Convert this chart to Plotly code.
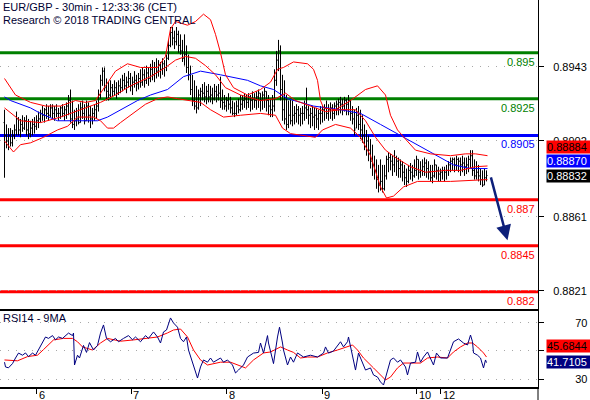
import plotly.graph_objects as go

# ---------------- DATA ----------------
bar_high = [
 0.8919,0.8911,0.8909,0.8909,0.8908,0.8911,0.8918,0.8915,0.8914,0.8916,
 0.8915,0.8916,0.8914,0.8913,0.8914,0.8915,0.8916,0.8918,0.8919,0.8921,
 0.8920,0.8922,0.8921,0.8922,0.8922,0.8921,0.8922,0.8920,0.8921,0.8922,
 0.8921,0.8923,0.8927,0.8930,0.8924,0.8919,0.8920,0.8922,0.8923,0.8924,
 0.8922,0.8924,0.8923,0.8921,0.8920,0.8922,0.8924,0.8930,0.8938,0.8942,
 0.8942,0.8936,0.8934,0.8935,0.8933,0.8935,0.8934,0.8935,0.8936,0.8938,
 0.8939,0.8937,0.8940,0.8939,0.8937,0.8940,0.8938,0.8939,0.8941,0.8942,
 0.8941,0.8943,0.8942,0.8944,0.8946,0.8945,0.8947,0.8946,0.8945,0.8947,
 0.8946,0.8949,0.8957,0.8964,0.8964,0.8962,0.8964,0.8962,0.8960,0.8957,
 0.8960,0.8954,0.8949,0.8943,0.8938,0.8935,0.8932,0.8930,0.8931,0.8933,
 0.8934,0.8932,0.8933,0.8932,0.8931,0.8933,0.8932,0.8933,0.8937,0.8930,
 0.8927,0.8926,0.8928,0.8926,0.8924,0.8923,0.8924,0.8925,0.8927,0.8927,
 0.8928,0.8927,0.8928,0.8927,0.8929,0.8928,0.8929,0.8930,0.8928,0.8929,
 0.8931,0.8929,0.8927,0.8925,0.8927,0.8941,0.8951,0.8957,0.8954,0.8938,
 0.8935,0.8927,0.8924,0.8925,0.8924,0.8921,0.8922,0.8921,0.8920,0.8921,
 0.8924,0.8931,0.8921,0.8920,0.8921,0.8920,0.8920,0.8919,0.8921,0.8921,
 0.8922,0.8924,0.8922,0.8923,0.8922,0.8923,0.8924,0.8925,0.8926,0.8925,
 0.8926,0.8925,0.8927,0.8924,0.8921,0.8919,0.8920,0.8921,0.8919,0.8916,
 0.8911,0.8908,0.8905,0.8903,0.8900,0.8894,0.8892,0.8889,0.8892,0.8889,
 0.8889,0.8894,0.8896,0.8895,0.8894,0.8897,0.8894,0.8893,0.8892,0.8891,
 0.8889,0.8887,0.8889,0.8890,0.8889,0.8892,0.8894,0.8892,0.8891,0.8892,
 0.8893,0.8892,0.8891,0.8889,0.8889,0.8892,0.8889,0.8888,0.8887,0.8888,
 0.8888,0.8889,0.8891,0.8893,0.8893,0.8893,0.8894,0.8893,0.8893,0.8894,
 0.8893,0.8893,0.8894,0.8897,0.8897,0.8892,0.8891,0.8889,0.8887,0.8886,
 0.8887,0.8886]
bar_low = [
 0.8882,0.8898,0.8897,0.8899,0.8899,0.8903,0.8905,0.8905,0.8904,0.8907,
 0.8908,0.8905,0.8903,0.8904,0.8905,0.8906,0.8908,0.8909,0.8912,0.8913,
 0.8912,0.8914,0.8913,0.8915,0.8914,0.8913,0.8915,0.8913,0.8914,0.8915,
 0.8913,0.8914,0.8916,0.8912,0.8909,0.8908,0.8910,0.8911,0.8912,0.8914,
 0.8911,0.8913,0.8912,0.8909,0.8911,0.8913,0.8914,0.8918,0.8925,0.8932,
 0.8929,0.8924,0.8924,0.8925,0.8926,0.8927,0.8925,0.8927,0.8928,0.8929,
 0.8930,0.8928,0.8931,0.8929,0.8927,0.8931,0.8929,0.8930,0.8931,0.8932,
 0.8931,0.8933,0.8932,0.8934,0.8935,0.8934,0.8936,0.8937,0.8936,0.8938,
 0.8937,0.8940,0.8946,0.8953,0.8954,0.8952,0.8954,0.8950,0.8949,0.8945,
 0.8943,0.8939,0.8935,0.8927,0.8921,0.8919,0.8917,0.8919,0.8921,0.8924,
 0.8923,0.8922,0.8923,0.8923,0.8922,0.8924,0.8923,0.8924,0.8920,0.8919,
 0.8919,0.8918,0.8919,0.8917,0.8916,0.8915,0.8916,0.8917,0.8918,0.8919,
 0.8920,0.8919,0.8920,0.8918,0.8919,0.8920,0.8919,0.8920,0.8918,0.8919,
 0.8920,0.8918,0.8916,0.8915,0.8915,0.8918,0.8932,0.8940,0.8924,0.8913,
 0.8911,0.8908,0.8909,0.8911,0.8910,0.8911,0.8912,0.8911,0.8910,0.8911,
 0.8913,0.8914,0.8911,0.8909,0.8910,0.8908,0.8909,0.8908,0.8911,0.8912,
 0.8913,0.8914,0.8913,0.8914,0.8913,0.8914,0.8916,0.8916,0.8917,0.8916,
 0.8918,0.8916,0.8916,0.8913,0.8911,0.8905,0.8909,0.8908,0.8903,0.8901,
 0.8897,0.8894,0.8891,0.8887,0.8883,0.8881,0.8876,0.8874,0.8875,0.8874,
 0.8875,0.8881,0.8885,0.8886,0.8883,0.8885,0.8883,0.8882,0.8882,0.8880,
 0.8878,0.8877,0.8879,0.8881,0.8880,0.8882,0.8883,0.8881,0.8882,0.8883,
 0.8883,0.8882,0.8881,0.8880,0.8879,0.8882,0.8881,0.8880,0.8880,0.8881,
 0.8880,0.8881,0.8883,0.8885,0.8886,0.8885,0.8886,0.8885,0.8883,0.8885,
 0.8883,0.8884,0.8885,0.8887,0.8883,0.8881,0.8881,0.8880,0.8878,0.8877,
 0.8878,0.8880]
bar_close = [
 0.8905,0.8902,0.8905,0.8901,0.8905,0.8908,0.8914,0.8908,0.8911,0.8909,
 0.8913,0.8908,0.8906,0.8909,0.8911,0.8910,0.8913,0.8914,0.8917,0.8916,
 0.8919,0.8917,0.8916,0.8920,0.8917,0.8919,0.8917,0.8917,0.8920,0.8917,
 0.8919,0.8921,0.8924,0.8914,0.8911,0.8913,0.8914,0.8912,0.8920,0.8917,
 0.8913,0.8921,0.8916,0.8914,0.8917,0.8919,0.8921,0.8927,0.8935,0.8940,
 0.8931,0.8929,0.8927,0.8931,0.8929,0.8931,0.8928,0.8932,0.8931,0.8935,
 0.8932,0.8934,0.8936,0.8932,0.8934,0.8935,0.8933,0.8936,0.8934,0.8938,
 0.8935,0.8939,0.8936,0.8941,0.8938,0.8942,0.8940,0.8943,0.8941,0.8944,
 0.8942,0.8947,0.8954,0.8961,0.8958,0.8956,0.8960,0.8954,0.8951,0.8947,
 0.8949,0.8942,0.8938,0.8930,0.8924,0.8921,0.8920,0.8927,0.8929,0.8928,
 0.8926,0.8929,0.8926,0.8927,0.8925,0.8929,0.8927,0.8928,0.8924,0.8923,
 0.8921,0.8924,0.8922,0.8920,0.8917,0.8917,0.8921,0.8919,0.8922,0.8924,
 0.8925,0.8923,0.8926,0.8924,0.8925,0.8924,0.8926,0.8928,0.8924,0.8927,
 0.8929,0.8924,0.8921,0.8919,0.8921,0.8935,0.8946,0.8951,0.8930,0.8919,
 0.8914,0.8911,0.8916,0.8913,0.8916,0.8917,0.8919,0.8916,0.8917,0.8917,
 0.8920,0.8919,0.8916,0.8917,0.8915,0.8916,0.8914,0.8917,0.8917,0.8919,
 0.8920,0.8917,0.8919,0.8920,0.8917,0.8921,0.8922,0.8923,0.8922,0.8921,
 0.8924,0.8922,0.8924,0.8917,0.8914,0.8908,0.8916,0.8911,0.8908,0.8905,
 0.8899,0.8902,0.8897,0.8891,0.8889,0.8886,0.8881,0.8878,0.8880,0.8876,
 0.8883,0.8892,0.8893,0.8891,0.8889,0.8893,0.8891,0.8887,0.8889,0.8885,
 0.8882,0.8880,0.8886,0.8885,0.8883,0.8886,0.8892,0.8885,0.8886,0.8888,
 0.8890,0.8887,0.8885,0.8882,0.8883,0.8889,0.8886,0.8884,0.8885,0.8886,
 0.8885,0.8886,0.8889,0.8891,0.8892,0.8889,0.8892,0.8891,0.8889,0.8890,
 0.8888,0.8889,0.8892,0.8894,0.8886,0.8883,0.8885,0.8883,0.8881,0.8878,
 0.8882,0.88832]
first_open = 0.8912

bb_upper_x = [0,5.5,13,20.5,28,35.5,40.5,45.5,50.5,55.5,61.5,68,76.5,80.5,83,85.5,91.5,95.5,99.5,103,
              105.5,108,110.5,114.5,121.5,128,133,136.5,139.5,144.5,151.5,154.5,156.5,158,159.5,165.5,173,180.5,186.5,190.5,
              193,196.5,200.5,205.5,213,223,230.5,235.5,241.5]
bb_upper = [0.8936,0.8927,0.8923,0.8921,0.8921,0.8924,0.8923,0.8924,0.8932,0.8940,0.8944,0.8942,0.8942,0.8948,0.8963,0.8967,0.8965,0.8967,0.8971,0.8968,
            0.8960,0.8950,0.8938,0.8931,0.8927,0.8930,0.8934,0.8941,0.8942,0.8945,0.8944,0.8941,0.8935,0.8924,0.8920,0.8919,0.8924,0.8930,0.8932,0.8927,
            0.8916,0.8908,0.8903,0.8897,0.8895,0.8894,0.8895,0.8895,0.8894]
bb_mid_x = [0,8,18,28,38,48,55.5,63,73,80.5,85.5,90.5,95.5,100.5,105.5,110.5,118,128,135.5,140.5,
            145.5,153,160.5,168,175.5,180.5,185.5,190.5,195.5,203,210.5,220.5,228,235.5,241.5]
bb_mid = [0.8920,0.8913,0.8912,0.8915,0.8919,0.8923,0.8927,0.8932,0.8937,0.8942,0.8946,0.8948,0.8947,0.8943,0.8938,0.8931,0.8927,0.8924,0.8925,0.8928,
          0.8924,0.8921,0.8918,0.8919,0.8919,0.8913,0.8904,0.8897,0.8893,0.8888,0.8885,0.8886,0.8886,0.8888,0.88884]
bb_lower_x = [0,4.5,8,13,19.5,26.5,31.5,36.5,44.5,48,51.5,54.5,58,63,70.5,76.5,81.5,86.5,93,98,
              103,109.5,118,128,135.5,139,143,150.5,155.5,159,165.5,173,178,183,188,191,194.5,199.5,206.5,223,241.5]
bb_lower = [0.8902,0.8896,0.8900,0.8901,0.8904,0.8908,0.8910,0.8915,0.8915,0.8913,0.8909,0.8909,0.8912,0.8916,0.8922,0.8925,0.8926,0.8925,0.8924,0.8923,
            0.8919,0.8915,0.8916,0.8917,0.8916,0.8909,0.8906,0.8905,0.8904,0.8908,0.8911,0.8909,0.8904,0.8894,0.8877,0.8871,0.8872,0.8877,0.8880,0.8880,0.8881]
ma_x = [0,3,13,18,26.5,31.5,46.5,51.5,58,66.5,73,81.5,89.5,94.5,98,108,121.5,128,134.5,141.5,
        148,154.5,168,178,188,198,208,218,224.5,233,241.5]
ma_blue = [0.8926,0.8924,0.8920,0.8917,0.8913,0.8913,0.8913,0.8915,0.8919,0.8924,0.8927,0.8930,0.8937,0.8939,0.8940,0.8938,0.8935,0.8932,0.8930,0.8925,
           0.8923,0.8921,0.8919,0.8917,0.8911,0.8905,0.8899,0.8893,0.8889,0.8887,0.88870]

rsi_x = [0,0.5,2,4,5.5,7,9,10.5,12,14,15.5,17,19,20.5,22,24,25.5,27,29,30.5,
         32,34,34.5,35,36.5,37.5,39.5,41,42.5,44.5,46.5,48,49.5,51,53,55.5,57,59.5,62,64,
         65.5,68,70.5,72,74.5,76.5,78,79.5,81,83,84.5,86.5,88,89.5,91,92,94,95.5,96.5,98,
         99.5,101.5,103,104.5,106.5,108,109.5,111.5,114,115.5,117,119.5,121.5,123,124.5,127,128,129.5,131.5,132,
         134,134.5,136.5,137.5,139,139.5,141.5,143,144.5,146.5,149.5,153,156.5,159.5,160.5,162,164.5,168,169.5,171.5,
         172,173,174,175.5,177,179,180.5,183,184.5,186.5,188,189.5,191.5,193,194.5,196.5,198,200.5,201.5,203,
         205.5,206.5,208,209.5,211.5,213,214.5,216,218,221.5,223,224.5,227,229.5,231.5,233,234,234.5,236.5,238,
         239.5,240.5,241]
rsi = [42,38.6,38,41,45,48.5,47,48.6,46,48.5,47,50.7,56.6,60,59,61,58,60,59,61,
       62.8,61,62.8,40,47,45,54,49,56,50.7,54,62.8,68.6,59,56.6,59,56.6,59,61,58,
       60,56.6,61,59,63.6,60,55.7,63.6,65,73.6,70,67,59,56.6,60,50.7,42,36.4,30.7,38.6,
       43.6,42,45,42,43.6,45,42,43.6,40,34.3,36.4,40,45.7,47,48.5,49,55.7,48.5,61,55.7,
       45,41,60,67,55.7,50.7,40,45.7,42,48.6,45.7,47,45.7,48.5,52.9,48.5,50,56.6,52.9,56.6,
       60,52.9,47,36.4,48.5,41.4,36.4,37.9,32.9,31.4,27.9,25.7,36.4,43.6,45,42,43.6,38.6,32.9,41.4,
       42,49.3,42,45.7,49.3,45,40,48.5,45,45,50.7,56.6,58.6,55.7,54.3,61.4,56.6,48.6,47,45,
       37.9,43.6,41.7105]
rsi_ma_x = [0,6.5,11.5,16.5,19.5,24.5,29.5,34,36.5,39,44,48,51.5,58,64.5,71.5,76.5,81.5,84.5,88,
            91.5,94.5,98,101.5,108,113,116.5,120.5,124.5,129.5,133,138,141.5,144.5,148,151.5,156.5,161.5,166.5,171.5,
            174,176.5,179.5,184.5,188,190.5,193,196.5,199.5,204.5,208,211.5,216.5,221.5,224.5,228,231.5,234,236.5,239.5,241]
rsi_ma = [43.6,43,46,47,51,57.9,59,59,56.6,52.9,50.7,55.7,59,57,57.9,59,60,62.9,65,65.7,
          60,50.7,43.6,40,42,42,40,37.9,43.6,48.6,49.3,52.9,50.7,49,45,45.7,45.7,48.6,50.7,52.9,
          54.3,50.7,45,37.9,32.9,29.3,31.4,37.9,41.4,41.4,41.4,45,45.7,45,49.3,52.9,55.7,55.7,52.9,48.6,45.6844]

levels = [0.895, 0.8925, 0.8905, 0.887, 0.8845, 0.882]
level_text = ["0.895", "0.8925", "0.8905", "0.887", "0.8845", "0.882"]
level_kind = ["res", "res", "pivot", "sup", "sup", "sup"]

price_tick_vals = [0.89423, 0.89020, 0.88607, 0.88204]
price_tick_text = ["0.8943", "0.8902", "0.8861", "0.8821"]
rsi_tick_vals = [30, 50, 70]
rsi_tick_text = ["30", "", "70"]
day_tick_x = [16, 63.25, 111, 158.75, 206, 218]
day_tick_text = ["6", "7", "8", "9", "10", "12"]

arrow_from = (243, 0.8883)
arrow_to = (251.5, 0.8848)

last_close = 0.88832
last_mid = 0.88884
last_ma = 0.88870
last_rsi = 41.7105
last_rsi_ma = 45.6844

# ---------------- STYLE ----------------
FONT = "Liberation Sans, Arial, sans-serif"
RED = "#ff0000"
GREEN = "#008000"
BLUE = "#0000ff"
NAVY = "#000080"
kind_color = {"res": GREEN, "pivot": BLUE, "sup": RED}
X_RANGE = [-2.25, 266.75]

n = len(bar_close)
bar_x = list(range(n))
bar_open = [first_open] + bar_close[:-1]
bar_open = [min(max(o, l), h) for o, l, h in zip(bar_open, bar_low, bar_high)]

fig = go.Figure()

for val, kind in zip(levels, level_kind):
    fig.add_shape(type="line", xref="paper", x0=0, x1=1, yref="y", y0=val, y1=val,
                  line=dict(color=kind_color[kind], width=3), layer="below")

fig.add_trace(go.Scatter(x=ma_x, y=ma_blue, mode="lines", line=dict(color=BLUE, width=1),
                         xaxis="x", yaxis="y", hoverinfo="skip"))
for xs, ys in [(bb_upper_x, bb_upper), (bb_mid_x, bb_mid), (bb_lower_x, bb_lower)]:
    fig.add_trace(go.Scatter(x=xs, y=ys, mode="lines", line=dict(color=RED, width=1),
                             xaxis="x", yaxis="y", hoverinfo="skip"))

fig.add_trace(go.Ohlc(x=bar_x, open=bar_open, high=bar_high, low=bar_low, close=bar_close,
                      increasing=dict(line=dict(color="black", width=1)),
                      decreasing=dict(line=dict(color="black", width=1)),
                      tickwidth=0.5, xaxis="x", yaxis="y", hoverinfo="skip"))

fig.add_trace(go.Scatter(x=rsi_ma_x, y=rsi_ma, mode="lines", line=dict(color=RED, width=1),
                         xaxis="x2", yaxis="y2", hoverinfo="skip"))
fig.add_trace(go.Scatter(x=rsi_x, y=rsi, mode="lines", line=dict(color=NAVY, width=1),
                         xaxis="x2", yaxis="y2", hoverinfo="skip"))

# pointer markers for last values
fig.add_trace(go.Scatter(x=[269.6], y=[last_close], mode="markers", cliponaxis=False,
                         marker=dict(symbol="triangle-left", size=11, color="black"),
                         xaxis="x", yaxis="y", hoverinfo="skip"))
fig.add_trace(go.Scatter(x=[269.6], y=[last_rsi], mode="markers", cliponaxis=False,
                         marker=dict(symbol="triangle-left", size=11, color=NAVY),
                         xaxis="x2", yaxis="y2", hoverinfo="skip"))

MAIN_BOTTOM = 0.2016
fig.update_layout(
    width=590, height=400, margin=dict(l=0, r=52, t=0, b=13, autoexpand=False),
    paper_bgcolor="white", plot_bgcolor="white", showlegend=False,
    font=dict(family=FONT, size=11, color="black"),
    xaxis=dict(domain=[0, 1], range=X_RANGE, anchor="y", showgrid=False, zeroline=False,
               showline=True, linecolor="black", linewidth=2, showticklabels=False, ticks="",
               rangeslider=dict(visible=False)),
    yaxis=dict(domain=[MAIN_BOTTOM, 1], range=[0.88106, 0.89787], side="right",
               showgrid=True, gridcolor="#a8a8a8", griddash="1px,7px", gridwidth=1,
               tickvals=price_tick_vals, ticktext=price_tick_text, ticks="outside", ticklen=5,
               tickcolor="black", showline=True, linecolor="black", linewidth=1, zeroline=False,
               ticklabelstandoff=7, tickfont=dict(family=FONT, size=11, color="black")),
    xaxis2=dict(domain=[0, 1], range=X_RANGE, anchor="y2", matches="x", showgrid=False,
                zeroline=False, showline=True, linecolor="black", linewidth=2,
                tickvals=day_tick_x, ticks="outside", ticklen=5, tickcolor="black",
                showticklabels=False),
    yaxis2=dict(domain=[0, MAIN_BOTTOM], range=[24.29, 80], side="right",
                showgrid=True, gridcolor="#a8a8a8", griddash="1px,7px", gridwidth=1,
                tickvals=rsi_tick_vals, ticktext=rsi_tick_text, ticks="outside", ticklen=5,
                tickcolor="black", showline=True, linecolor="black", linewidth=1, zeroline=False,
                ticklabelstandoff=29, tickfont=dict(family=FONT, size=11, color="black")),
)

# right axis line extends below the chart
fig.add_shape(type="line", xref="paper", yref="paper", x0=1, x1=1, y0=-0.04, y1=0,
              line=dict(color="black", width=1))

ann = []
ann.append(dict(text="EUR/GBP - 30min - 12:33:36 (CET)", xref="paper", yref="paper", x=0, y=1,
                xanchor="left", yanchor="top", xshift=1, yshift=1, showarrow=False,
                font=dict(family=FONT, size=11, color="#000033")))
ann.append(dict(text="Research \u00a9 2018 TRADING CENTRAL", xref="paper", yref="paper", x=0, y=1,
                xanchor="left", yanchor="top", xshift=1, yshift=-12, showarrow=False,
                font=dict(family=FONT, size=11, color="#000033")))
ann.append(dict(text="RSI14 - 9MA", xref="paper", yref="paper", x=0, y=MAIN_BOTTOM,
                xanchor="left", yanchor="top", xshift=1, yshift=-1, showarrow=False,
                font=dict(family=FONT, size=11, color="#000033")))
for val, txt, kind in zip(levels, level_text, level_kind):
    ann.append(dict(text=txt, xref="paper", yref="y", x=1, y=val, xanchor="right", yanchor="top",
                    xshift=-1, yshift=-1, showarrow=False,
                    font=dict(family=FONT, size=11, color=kind_color[kind])))
for tx, tt in zip(day_tick_x, day_tick_text):
    ann.append(dict(text=tt, xref="x2", yref="paper", x=tx, y=0, xanchor="left", yanchor="top",
                    xshift=0, yshift=0, showarrow=False, font=dict(family=FONT, size=11, color="black")))

def value_box(val, yref, bg, fg, shift):
    return dict(text=f"{val:.5f}" if yref == "y" else f"{val:.4f}", xref="paper", yref=yref, x=1, y=val,
                xanchor="left", yanchor="middle", xshift=8, yshift=shift, showarrow=False,
                bgcolor=bg, borderpad=0, width=44, height=12, align="left",
                font=dict(family=FONT, size=11, color=fg))

ann.append(value_box(last_mid, "y", RED, "black", 19))
ann.append(value_box(last_ma, "y", BLUE, "white", 7.5))
ann.append(value_box(last_close, "y", "black", "white", 0))
ann.append(value_box(last_rsi_ma, "y2", RED, "black", 11))
ann.append(value_box(last_rsi, "y2", NAVY, "white", 1))

ann.append(dict(text="", x=arrow_to[0], y=arrow_to[1], xref="x", yref="y",
                ax=arrow_from[0], ay=arrow_from[1], axref="x", ayref="y",
                showarrow=True, arrowhead=2, arrowsize=1.2, arrowwidth=2.5, arrowcolor="#0d1f7a",
                standoff=0))
fig.update_layout(annotations=ann)

fig.write_html("out.html", config={"displayModeBar": False, "staticPlot": True},
               post_script="document.body.style.margin='0';document.body.style.overflow='hidden';")
